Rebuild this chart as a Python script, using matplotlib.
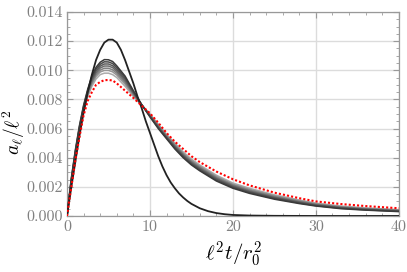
import matplotlib
matplotlib.use("Agg")
import matplotlib.pyplot as plt
from matplotlib.ticker import MultipleLocator, FormatStrFormatter

plt.rcParams['font.family'] = 'serif'
plt.rcParams['font.serif'] = ['cmr10', 'DejaVu Serif']
plt.rcParams['mathtext.fontset'] = 'cm'
plt.rcParams['axes.formatter.use_mathtext'] = True

# common time grid (l^2 t / r0^2)
x = [0, 0.5, 1, 1.5, 2, 2.5, 3, 3.5, 4, 4.5, 5, 5.5, 6, 7, 8, 9, 10, 11, 12, 13,
     14, 15, 16, 18, 20, 22, 25, 28, 30, 33, 36, 40]

# gray family, darkest (highest peak) first
g1 = [0, .0025, .0045, .0062, .0076, .0087, .0096, .0102, .01055, .01073, .01072, .0106,
      .0103, .0096, .0086, .00765, .0068, .0060, .0053, .0046, .0040, .0035, .0031, .0024,
      .0019, .00155, .00115, .00085, .00068, .0005, .0004, .0003]
g2 = [0, .00244, .00442, .00612, .00752, .00862, .00949, .01007, .01041, .01058, .01057, .01046,
      .01017, .00949, .00854, .00764, .00683, .00605, .00535, .00466, .00406, .00356, .00316, .00246,
      .00196, .00161, .0012, .00089, .00071, .00053, .00042, .00032]
g3 = [0, .00237, .00434, .00604, .00744, .00854, .00938, .00994, .01028, .01043, .01043, .01031,
      .01004, .00938, .00847, .00763, .00686, .0061, .0054, .00473, .00413, .00363, .00323, .00253,
      .00202, .00166, .00125, .00093, .00074, .00056, .00045, .00034]
g4 = [0, .00231, .00427, .00597, .00737, .00847, .00927, .00982, .01015, .01029, .01029, .01018,
      .00992, .00927, .00841, .00763, .00689, .00614, .00544, .00479, .00419, .00369, .00329, .00259,
      .00207, .00171, .00129, .00097, .00077, .00058, .00047, .00036]
g5 = [0, .00225, .00419, .00589, .00729, .00839, .00916, .0097, .01001, .01014, .01014, .01003,
      .0098, .00916, .00835, .00762, .00693, .00619, .00549, .00485, .00425, .00375, .00335, .00265,
      .00213, .00177, .00134, .00101, .00081, .00061, .00049, .00038]
g6 = [0, .00218, .0041, .0058, .0072, .0083, .00905, .00957, .00988, .00999, .00999, .00989,
      .00967, .00905, .00828, .00761, .00696, .00624, .00554, .00492, .00432, .00382, .00342, .00272,
      .00218, .00183, .00139, .00105, .00084, .00064, .00052, .00041]
g7 = [0, .0021, .0040, .0057, .0071, .0082, .0089, .0094, .0097, .0098, .0098, .0097,
      .0095, .0089, .0082, .0076, .0070, .0063, .0056, .0050, .0044, .0039, .0035, .0028,
      .00226, .0019, .00145, .0011, .00088, .00068, .00055, .00043]

# red dotted limit curve
red = [0, .0019, .0038, .0054, .0069, .0079, .0085, .0090, .0092, .00932, .00933, .0093,
       .0091, .0086, .0081, .00757, .00705, .0064, .0057, .0051, .0046, .0041, .0037, .00305,
       .00252, .0021, .0016, .00122, .0010, .00082, .00068, .00053]

# black curve (narrow)
xb = [0, 0.5, 1, 1.5, 2, 2.5, 3, 3.5, 4, 4.5, 5, 5.5, 6, 6.5, 7, 7.5, 8, 8.5, 9, 9.5,
      10, 10.5, 11, 11.5, 12, 12.5, 13, 13.5, 14, 14.5, 15, 16, 17, 18, 19, 20, 22, 25, 30, 40]
yb = [0, .0019, .0037, .0055, .0071, .0085, .0097, .0107, .0114, .0119, .0121, .0121,
      .0119, .0114, .0107, .0099, .0091, .0082, .0074, .0065, .0057, .0049, .0041, .0034,
      .0028, .0023, .0019, .00155, .00127, .00103, .00083, .00053, .00033, .0002, .00012,
      .00007, .00003, .00001, 0, 0]

grays = [g1, g2, g3, g4, g5, g6, g7]
shades = ['#3a3a3a', '#4a4a4a', '#5a5a5a', '#6c6c6c', '#808080', '#959595', '#ababab']

fig = plt.figure(figsize=(4.07, 2.72), dpi=100)
ax = fig.add_axes([0.1646, 0.206, 0.8154, 0.750])

for g, c in zip(grays[::-1], shades[::-1]):
    ax.plot(x, g, color=c, lw=1.1, zorder=3)
ax.plot(xb, yb, color='#222222', lw=1.3, zorder=4)
ax.plot(x, red, color='red', lw=1.5, ls=(0, (1, 1)), zorder=5)

ax.set_xlim(0, 40)
ax.set_ylim(0, 0.014)
ax.xaxis.set_major_locator(MultipleLocator(10))
ax.xaxis.set_minor_locator(MultipleLocator(2))
ax.yaxis.set_major_locator(MultipleLocator(0.002))
ax.yaxis.set_minor_locator(MultipleLocator(0.0005))
ax.yaxis.set_major_formatter(FormatStrFormatter('%.3f'))
ax.xaxis.set_major_formatter(FormatStrFormatter('%d'))

ax.grid(True, which='major', color='#dcdcdc', lw=1.0, zorder=0)
for s in ax.spines.values():
    s.set_color('#999999')
    s.set_linewidth(0.9)
ax.tick_params(which='both', direction='in', top=True, right=True, color='#999999',
               labelcolor='#808080', labelsize=11.5)
ax.tick_params(which='major', length=4, width=0.8, pad=3)
ax.tick_params(which='minor', length=2, width=0.6)

ax.set_xlabel(r'$\ell^2 t/r_0^2$', fontsize=15, labelpad=4)
ax.set_ylabel(r'$a_\ell/\ell^2$', fontsize=14)
ax.yaxis.set_label_coords(-0.12, 0.41)

fig.savefig('out.png', dpi=100)
